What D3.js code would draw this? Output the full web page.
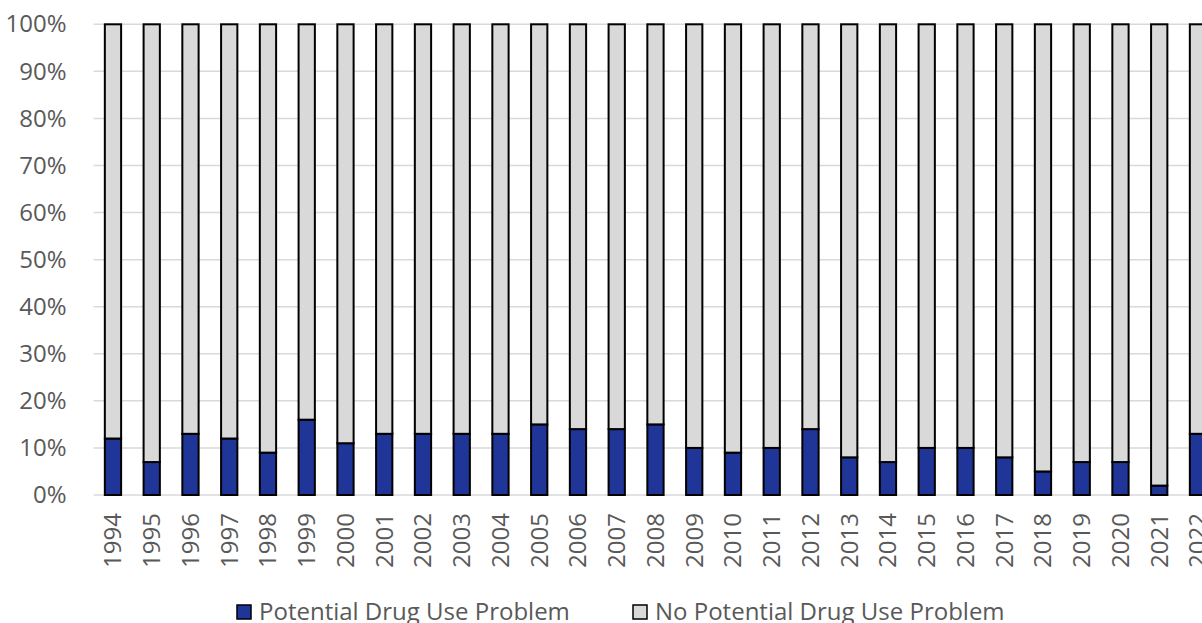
<!DOCTYPE html>
<html>
<head>
<meta charset="utf-8">
<script src="https://cdn.jsdelivr.net/npm/d3@7"></script>
<style>
  html, body { margin: 0; padding: 0; background: #fff; }
  svg { display: block; }
  text { font-family: "Open Sans", "Liberation Sans", sans-serif; fill: #595959; }
</style>
</head>
<body>
<svg id="chart" width="1202" height="623"></svg>
<script>
// Survey years and share (%) of respondents flagged with a potential drug use problem
const years = ["1994","1995","1996","1997","1998","1999","2000","2001","2002","2003",
               "2004","2005","2006","2007","2008","2009","2010","2011","2012","2013",
               "2014","2015","2016","2017","2018","2019","2020","2021","2022"];
const problemPct = [12, 7, 13, 12, 9, 16, 11, 13, 13, 13,
                    13, 15, 14, 14, 15, 10, 9, 10, 14, 8,
                    7, 10, 10, 8, 5, 7, 7, 2, 13];
const noProblemPct = problemPct.map(v => 100 - v);
const seriesNames = ["Potential Drug Use Problem", "No Potential Drug Use Problem"];
const seriesColors = ["#1f3698", "#d9d9d9"];
const yTicks = [0, 10, 20, 30, 40, 50, 60, 70, 80, 90, 100];

const svg = d3.select("#chart");
const margin = { left: 93.6, top: 24.3, bottom: 495 };
const step = 38.75;
const width = step * years.length;

const x = d3.scaleBand().domain(years)
  .range([margin.left, margin.left + width])
  .paddingInner(0.58).paddingOuter(0.29);
const y = d3.scaleLinear().domain([0, 100]).range([margin.bottom, margin.top]);

// horizontal gridlines
svg.append("g").selectAll("line").data(yTicks).join("line")
  .attr("x1", margin.left).attr("x2", 1202)
  .attr("y1", d => y(d)).attr("y2", d => y(d))
  .attr("stroke", "#d9d9d9").attr("stroke-width", 1.5);

// y axis labels
const yAxis = d3.axisLeft(y).tickValues(yTicks).tickFormat(d => d + "%").tickSize(0).tickPadding(0);
const yg = svg.append("g").attr("transform", `translate(${margin.left - 27},0)`).call(yAxis);
yg.select(".domain").remove();
yg.selectAll("text").attr("font-size", 24).attr("font-family", null).attr("fill", "#595959");

// stacked bars
const rows = years.map((yr, i) => ({ year: yr, p: problemPct[i], n: noProblemPct[i] }));
const stack = d3.stack().keys(["p", "n"])(rows);
svg.append("g").selectAll("g").data(stack).join("g")
  .attr("fill", (d, i) => seriesColors[i])
  .selectAll("rect").data(d => d).join("rect")
  .attr("x", d => x(d.data.year))
  .attr("width", x.bandwidth())
  .attr("y", d => y(d[1]))
  .attr("height", d => y(d[0]) - y(d[1]))
  .attr("stroke", "#000").attr("stroke-width", 2);

// x axis labels (rotated years)
const xAxis = d3.axisBottom(x).tickSize(0).tickPadding(0);
const xg = svg.append("g").attr("transform", `translate(0,${margin.bottom})`).call(xAxis);
xg.select(".domain").remove();
xg.selectAll("text")
  .attr("font-size", 24).attr("font-family", null).attr("fill", "#595959")
  .attr("transform", "rotate(-90)")
  .attr("text-anchor", "end")
  .attr("x", -18).attr("y", 0).attr("dy", "0.35em");

// legend
const legendItems = [
  { name: seriesNames[0], color: seriesColors[0], sx: 237, tx: 259 },
  { name: seriesNames[1], color: seriesColors[1], sx: 633, tx: 655 }
];
const lg = svg.append("g");
lg.selectAll("rect").data(legendItems).join("rect")
  .attr("x", d => d.sx).attr("y", 605).attr("width", 14).attr("height", 14)
  .attr("fill", d => d.color).attr("stroke", "#000").attr("stroke-width", 1.5);
lg.selectAll("text").data(legendItems).join("text")
  .attr("x", d => d.tx).attr("y", 620)
  .attr("font-size", 24)
  .text(d => d.name);
</script>
</body>
</html>
